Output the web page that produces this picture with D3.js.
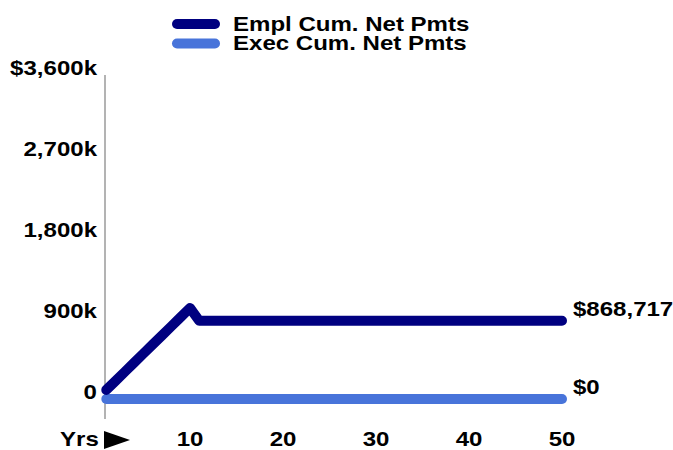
<!DOCTYPE html>
<html>
<head>
<meta charset="utf-8">
<script src="https://cdn.jsdelivr.net/npm/d3@7/dist/d3.min.js"></script>
<style>
  html, body { margin: 0; padding: 0; background: #ffffff; }
  svg { display: block; }
  text { font-family: "Liberation Sans", Arial, sans-serif; font-weight: bold; fill: #000; }
</style>
</head>
<body>
<svg id="chart" width="673" height="450"></svg>
<script>
// Cumulative net payments by year
const years = [1,2,3,4,5,6,7,8,9,10,11,12,13,14,15,16,17,18,19,20,21,22,23,24,25,26,27,28,29,30,
               31,32,33,34,35,36,37,38,39,40,41,42,43,44,45,46,47,48,49,50];
const emplCumNet = [101100,202200,303300,404400,505500,606600,707700,808800,909900,1011000,
                    868717,868717,868717,868717,868717,868717,868717,868717,868717,868717,
                    868717,868717,868717,868717,868717,868717,868717,868717,868717,868717,
                    868717,868717,868717,868717,868717,868717,868717,868717,868717,868717,
                    868717,868717,868717,868717,868717,868717,868717,868717,868717,868717];
const execCumNet = [0,0,0,0,0,0,0,0,0,0,0,0,0,0,0,0,0,0,0,0,0,0,0,0,0,
                    0,0,0,0,0,0,0,0,0,0,0,0,0,0,0,0,0,0,0,0,0,0,0,0,0];
const seriesNames = ["Empl Cum. Net Pmts", "Exec Cum. Net Pmts"];
const seriesColors = ["#000080", "#4874da"];
const yTicks = [0, 900000, 1800000, 2700000, 3600000];
const yTickLabels = ["0", "900k", "1,800k", "2,700k", "$3,600k"];
const xTicks = [10, 20, 30, 40, 50];
const endLabels = ["$868,717", "$0"];

const FONT = 21;      // label font size
const WIDEN = 1.145;  // horizontal stretch of the bold labels

const svg = d3.select("#chart");
const x = d3.scaleLinear().domain([0, 50]).range([97, 562]);
const y = d3.scaleLinear().domain([0, 3600000]).range([399, 75]);

// Places a widened bold label at (px, py)
function label(parent, px, py, str, anchor) {
  return parent.append("text")
    .attr("transform", `translate(${px},${py}) scale(${WIDEN},1)`)
    .attr("text-anchor", anchor || "start")
    .attr("dominant-baseline", "central")
    .attr("font-size", FONT)
    .text(str);
}

// Vertical axis line
svg.append("line")
  .attr("x1", 105).attr("x2", 105)
  .attr("y1", 75).attr("y2", 419)
  .attr("stroke", "#808080").attr("stroke-width", 1.2);

// Y tick labels
const yg = svg.append("g");
yTicks.forEach((d, i) => label(yg, 97, y(d) - 7, yTickLabels[i], "end"));

// X tick labels
const xg = svg.append("g");
xTicks.forEach(d => label(xg, x(d), 439, String(d), "middle"));

label(svg, 60, 439, "Yrs", "start");
svg.append("path")
  .attr("d", "M104,431 L130,440 L104,449 Z")
  .attr("fill", "#000");

// Lines (exec drawn first, employee on top)
const line = d3.line().x((d, i) => x(years[i])).y(d => y(d));
[[execCumNet, seriesColors[1]], [emplCumNet, seriesColors[0]]].forEach(([s, c]) => {
  svg.append("path")
    .datum(s)
    .attr("d", line)
    .attr("fill", "none")
    .attr("stroke", c)
    .attr("stroke-width", 10)
    .attr("stroke-linecap", "round")
    .attr("stroke-linejoin", "round");
});

// End value labels
const lastVals = [emplCumNet[emplCumNet.length - 1], execCumNet[execCumNet.length - 1]];
const eg = svg.append("g");
lastVals.forEach((d, i) => label(eg, x(50) + 11, y(d) - 12, endLabels[i], "start"));

// Legend
const legend = svg.append("g");
seriesNames.forEach((name, i) => {
  const ly = 24 + i * 19.5;
  legend.append("line")
    .attr("x1", 177).attr("x2", 215)
    .attr("y1", ly).attr("y2", ly)
    .attr("stroke", seriesColors[i])
    .attr("stroke-width", 10)
    .attr("stroke-linecap", "round");
  label(legend, 233, ly, name, "start");
});
</script>
</body>
</html>
